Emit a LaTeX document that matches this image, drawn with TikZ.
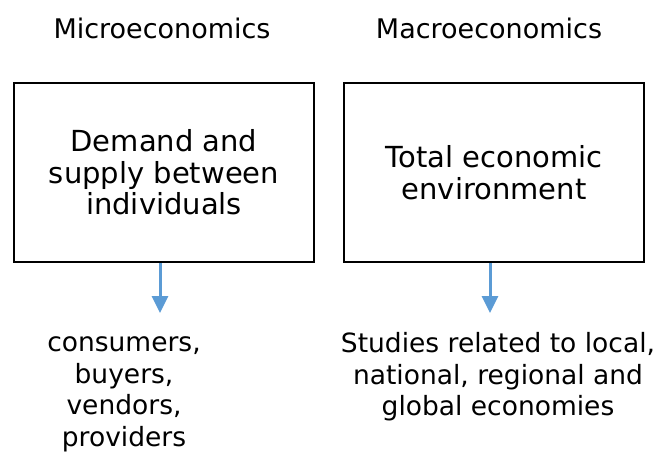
\documentclass[tikz,border=0pt]{standalone}
\usepackage{fontspec}
\setmainfont{DejaVu Sans}
\usetikzlibrary{arrows.meta}
\definecolor{flecha}{HTML}{5B9BD5}
\begin{document}
\begin{tikzpicture}[x = 1pt, y = -1pt, titulo/.style = {anchor=base,font=\fontsize{27}{31.5}\selectfont,inner sep=0},caja/.style = {draw,line width=2.6pt,minimum width=300pt,minimum height=179pt,align=center,font=\fontsize{29}{31.5}\selectfont},texto/.style = {align=center,inner sep=0,font=\fontsize{26.5}{31.5}\selectfont},flechaazul/.style = {draw=flecha,line width=3pt,-{Triangle[width=16pt,length=17pt]},fill=flecha},]
		\useasboundingbox (0,0) rectangle (658,456);
		\node[titulo] (micro) at (162,38) {Microeconomics};
		\node[titulo] (macro) at (489,38) {Macroeconomics};
		\node[caja] (demanda) at (164,172.5) {Demand and\\supply between\\individuals};
		\node[caja] (total) at (494,172.5) {Total economic\\environment};
		\node[texto] (agentes) at (124,394.5) {consumers,\\buyers,\\vendors,\\providers};
		\node[texto] (estudios) at (498,376.7) {Studies related to local,\\national, regional and\\global economies};
		
		\coordinate (fin1) at (160,313);
		\coordinate (fin2) at (490,313);
		\draw[flechaazul] (demanda.south -| fin1) -- (fin1);
		\draw[flechaazul] (total.south -| fin2) -- (fin2);
	\end{tikzpicture}
\end{document}
